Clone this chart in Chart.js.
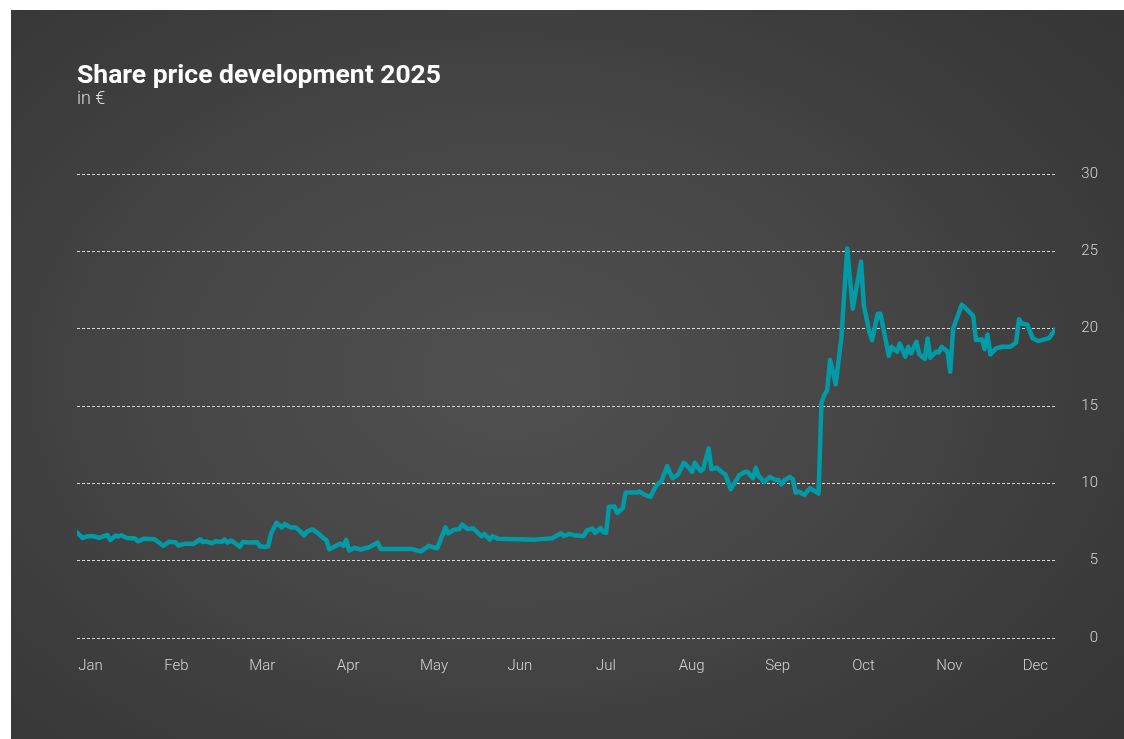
<!DOCTYPE html>
<html>
<head>
<meta charset="utf-8">
<title>Share price development 2025</title>
<script src="https://cdn.jsdelivr.net/npm/chart.js@4.4.1/dist/chart.umd.min.js"></script>
<style>
  html, body { margin: 0; padding: 0; background: #fff; }
  #wrap { position: relative; width: 1124px; height: 739px; overflow: hidden; }
  #panel {
    position: absolute; left: 11px; top: 10px; right: 0; bottom: 0;
    background: radial-gradient(ellipse 70% 75% at 45% 50%, #505050 0%, #464646 45%, #3b3b3b 80%, #363636 100%);
  }
  #myChart { position: absolute; left: 0; top: 0; }
</style>
</head>
<body>
<div id="wrap">
  <div id="panel"></div>
  <canvas id="myChart" width="1124" height="739"></canvas>
</div>
<script>
const months = ['Jan', 'Feb', 'Mar', 'Apr', 'May', 'Jun', 'Jul', 'Aug', 'Sep', 'Oct', 'Nov', 'Dec'];
const yTicks = [0, 5, 10, 15, 20, 25, 30];

// closing prices 2025 (MM-DD, EUR)
const dates = [
  '01-02','01-04','01-06','01-08','01-10','01-13','01-14','01-16','01-17','01-18','01-20','01-23','01-24','01-26','01-30',
  '02-02','02-04','02-06','02-07','02-09','02-12','02-14','02-15','02-16','02-18','02-19','02-21','02-22','02-23','02-24','02-25','02-27','02-28',
  '03-02','03-05','03-06','03-08','03-09','03-10','03-12','03-14','03-15','03-17','03-19','03-20','03-22','03-23','03-25','03-27','03-29','03-30','03-31',
  '04-03','04-04','04-05','04-06','04-07','04-09','04-11','04-14','04-17','04-18','04-29',
  '05-02','05-05','05-08','05-11','05-12','05-14','05-16','05-17','05-19','05-21','05-24','05-25','05-27','05-28','05-30',
  '06-12','06-18','06-21','06-22','06-24','06-26','06-29','06-30',
  '07-02','07-03','07-05','07-06','07-07','07-08','07-10','07-11','07-13','07-14','07-18','07-19','07-21','07-23','07-25','07-27','07-29','07-30','07-31',
  '08-02','08-04','08-05','08-07','08-08','08-10','08-11','08-13','08-14','08-16','08-18','08-19','08-21','08-24','08-26','08-27','08-29','08-30','08-31',
  '09-02','09-04','09-06','09-07','09-08','09-09','09-11','09-12','09-13','09-14','09-16','09-18','09-21','09-22','09-23','09-24','09-25','09-27','09-29',
  '10-01','10-03','10-06','10-07','10-09','10-10','10-12','10-13','10-16','10-17','10-19','10-20','10-22','10-23','10-24','10-26','10-27','10-29','10-30','10-31',
  '11-02','11-03','11-04','11-06','11-07','11-08','11-11','11-12','11-15','11-16','11-18','11-19','11-20','11-21','11-23','11-25','11-28','11-30',
  '12-01','12-02','12-04','12-06','12-08','12-12','12-14'
];
const prices = [
  6.83,6.47,6.58,6.58,6.47,6.66,6.34,6.62,6.56,6.64,6.47,6.43,6.25,6.41,6.38,
  5.96,6.23,6.19,5.98,6.09,6.09,6.38,6.21,6.25,6.12,6.25,6.21,6.36,6.17,6.30,6.19,5.91,6.21,
  6.17,6.19,5.93,5.89,5.93,6.73,7.45,7.15,7.37,7.15,7.15,6.99,6.64,6.88,7.02,6.77,6.45,6.34,5.74,
  6.02,6.09,5.95,6.34,5.66,5.83,5.72,5.87,6.17,5.76,5.76,
  5.59,5.96,5.80,7.15,6.77,6.99,7.05,7.33,7.05,7.09,6.58,6.73,6.36,6.58,6.41,
  6.36,6.45,6.77,6.60,6.73,6.62,6.60,6.94,
  7.07,6.79,7.11,6.83,6.81,8.48,8.50,8.08,8.40,9.40,9.40,9.47,9.25,9.13,9.85,10.15,11.12,10.69,10.33,
  10.58,11.33,11.18,10.75,11.33,10.80,10.91,12.26,10.91,11.01,10.69,10.58,9.62,10.52,10.73,10.75,10.33,11.01,10.48,
  10.09,10.41,10.22,10.22,9.94,10.20,10.41,10.26,9.40,9.47,9.25,9.69,9.34,15.2,15.7,16.0,17.97,16.41,19.5,
  25.19,21.29,24.34,21.51,19.79,19.26,20.97,20.97,18.25,18.83,18.51,19.04,18.19,18.83,18.40,19.15,18.34,18.04,19.36,18.12,
  18.51,18.46,18.83,18.51,17.22,20.01,21.55,21.40,20.82,19.26,19.32,18.68,19.62,18.34,18.72,18.83,18.83,19.11,
  20.61,20.33,20.26,19.36,19.20,19.41,19.94
];

const daysInMonth = [31, 28, 31, 30, 31, 30, 31, 31, 30, 31, 30, 31];

// position in month units: every month gets the same width on the axis
function monthPos(d) {
  const m = parseInt(d.slice(0, 2), 10) - 1;
  const day = parseInt(d.slice(3), 10);
  return m + (day - 1) / daysInMonth[m];
}

const points = dates.map((d, i) => ({ x: monthPos(d), y: prices[i] }));

const titleBlock = {
  id: 'titleBlock',
  beforeDraw(chart) {
    const ctx = chart.ctx;
    ctx.save();
    ctx.textAlign = 'left';
    ctx.textBaseline = 'alphabetic';
    ctx.fillStyle = '#ffffff';
    ctx.font = 'bold 26.5px Roboto';
    ctx.fillText('Share price development 2025', chart.chartArea.left, 83);
    ctx.fillStyle = '#dcdcdc';
    ctx.font = '300 18px Roboto';
    ctx.fillText('in €', chart.chartArea.left, 104);
    ctx.restore();
  }
};

const tickColor = '#d4d4d4';
const tickFont = { family: 'Roboto', size: 15, weight: '300' };

new Chart('myChart', {
  type: 'line',
  data: {
    datasets: [{
      data: points,
      borderColor: '#009ba6',
      borderWidth: 4.5,
      pointRadius: 0,
      tension: 0,
      borderJoinStyle: 'round',
      borderCapStyle: 'round'
    }]
  },
  options: {
    responsive: false,
    animation: false,
    layout: { padding: { top: 174, left: 77, right: 26, bottom: 0 } },
    plugins: {
      legend: { display: false },
      tooltip: { enabled: false }
    },
    scales: {
      x: {
        type: 'linear',
        min: points[0].x,
        max: points[points.length - 1].x,
        grid: { display: false },
        border: { display: false },
        afterBuildTicks: axis => {
          axis.ticks = months.map((m, i) => ({ value: i + 0.19 }));
        },
        ticks: {
          autoSkip: false,
          maxRotation: 0,
          padding: 11,
          color: tickColor,
          font: tickFont,
          callback: v => months[Math.floor(v)]
        },
        afterFit: axis => { axis.height = 101; }
      },
      y: {
        position: 'right',
        min: 0,
        max: 30,
        afterBuildTicks: axis => {
          axis.ticks = yTicks.map(v => ({ value: v }));
        },
        grid: { color: 'rgba(255,255,255,0.8)', lineWidth: 1, drawTicks: false },
        border: { display: false, dash: [3, 2] },
        ticks: {
          crossAlign: 'far',
          padding: 0,
          color: tickColor,
          font: tickFont
        },
        afterFit: axis => { axis.width = 43; }
      }
    }
  },
  plugins: [titleBlock]
});
</script>
</body>
</html>
